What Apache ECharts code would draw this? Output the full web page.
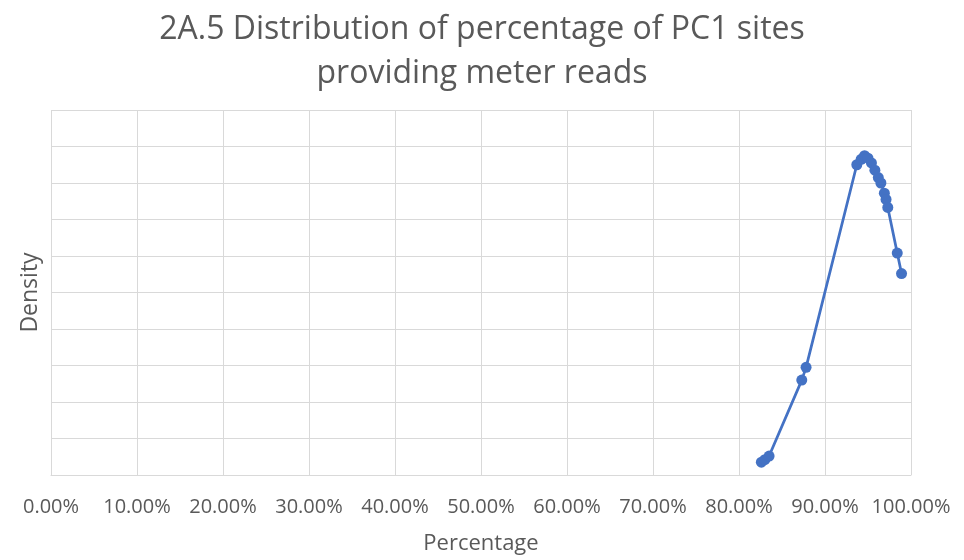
<!DOCTYPE html>
<html>
<head>
<meta charset="utf-8">
<script src="https://cdn.jsdelivr.net/npm/echarts@6/dist/echarts.min.js"></script>
<style>
  html, body { margin: 0; padding: 0; background: #ffffff; }
  #main { width: 964px; height: 560px; }
</style>
</head>
<body>
<div id="main"></div>
<script>
// percentage of sites providing reads (x) and estimated density (y)
var percentages = [82.6, 83.0, 83.5, 87.3, 87.8, 93.7, 94.2, 94.6, 95.0, 95.4, 95.8, 96.2, 96.5, 96.9, 97.1, 97.3, 98.4, 98.9];
var densities   = [0.35, 0.42, 0.52, 2.6, 2.95, 8.5, 8.65, 8.75, 8.68, 8.55, 8.35, 8.15, 8.0, 7.72, 7.55, 7.33, 6.08, 5.52];

var titleLines = ['2A.5 Distribution of percentage of PC1 sites', 'providing meter reads'];

var points = percentages.map(function (p, i) { return [p, densities[i]]; });

var myChart = echarts.init(document.getElementById('main'));

var option = {
  animation: false,
  title: {
    text: titleLines.join('\n'),
    left: 'center',
    top: 3,
    textStyle: {
      fontFamily: 'Open Sans',
      fontSize: 32,
      fontWeight: 'normal',
      color: '#595959',
      lineHeight: 44
    }
  },
  grid: { left: 51, right: 53, top: 110, bottom: 85 },
  xAxis: {
    type: 'value',
    min: 0,
    max: 100,
    interval: 10,
    name: 'Percentage',
    nameLocation: 'middle',
    nameGap: 58,
    nameTextStyle: { fontFamily: 'Open Sans', fontSize: 22, color: '#595959' },
    axisLine: { lineStyle: { color: '#d9d9d9' } },
    axisTick: { show: false },
    axisLabel: {
      margin: 22,
      fontFamily: 'Open Sans',
      fontSize: 20,
      color: '#595959',
      formatter: function (v) { return v.toFixed(2) + '%'; }
    },
    splitLine: { lineStyle: { color: '#d9d9d9' } }
  },
  yAxis: {
    type: 'value',
    min: 0,
    max: 10,
    interval: 1,
    name: 'Density',
    nameLocation: 'middle',
    nameGap: 9,
    nameTextStyle: { fontFamily: 'Open Sans', fontSize: 23, color: '#595959' },
    axisLine: { show: false },
    axisTick: { show: false },
    axisLabel: { show: false },
    splitLine: { lineStyle: { color: '#d9d9d9' } }
  },
  series: [{
    type: 'line',
    data: points,
    symbol: 'circle',
    symbolSize: 11,
    lineStyle: { color: '#4472C4', width: 2.75 },
    itemStyle: { color: '#4472C4' }
  }]
};

myChart.setOption(option);
</script>
</body>
</html>
